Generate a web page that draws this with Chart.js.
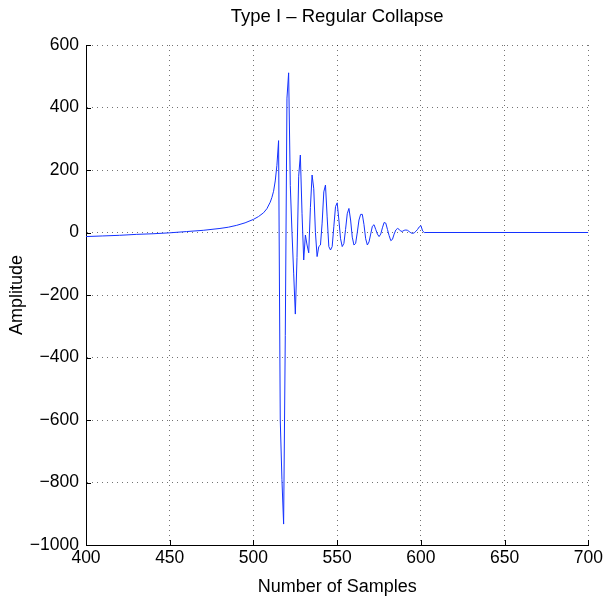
<!DOCTYPE html>
<html>
<head>
<meta charset="utf-8">
<title>Type I - Regular Collapse</title>
<script src="https://cdn.jsdelivr.net/npm/chart.js@4"></script>
<style>
    html, body { margin: 0; padding: 0; background: #ffffff; }
    canvas { display: block; }
</style>
</head>
<body>
<canvas id="collapseChart" width="606" height="599"></canvas>
<script>
// Signal (sample index -> amplitude)
const samples = [
    400, 410, 420, 430, 440, 450, 460, 470, 480, 485, 490, 495, 500, 503, 506, 508,
    510, 511, 512, 513, 514, 515, 516, 517, 518, 519, 520, 521, 522, 523, 524, 525,
    526, 527, 528, 529, 530, 531, 532, 533, 534, 535, 536, 537, 538, 539, 540, 541,
    542, 543, 544, 545, 546, 547, 548, 549, 550, 551, 552, 553, 554, 555, 556, 557,
    558, 559, 560, 561, 562, 563, 564, 565, 566, 567, 568, 569, 570, 571, 572, 573,
    574, 575, 576, 577, 578, 579, 580, 581, 582, 583, 584, 585, 586, 587, 588, 589,
    590, 591, 592, 593, 594, 595, 596, 597, 598, 599, 600, 601, 602, 700
];
const amplitude = [
    -13, -11, -9, -6, -4, -1, 3, 7, 13, 17, 23, 31, 42, 51, 63, 76,
    97, 112, 132, 165, 215, 294, -600, -790, -933, -330, 430, 511, 150, 0, -130, -261,
    -80, 180, 248, 60, -88, -8, -40, -65, 80, 184, 140, 0, -77, -45, -40, 30,
    130, 152, 50, -45, -56, -45, 20, 83, 95, 40, -20, -45, -35, 10, 60, 77,
    40, -15, -40, -35, 0, 40, 58, 58, 25, -20, -40, -30, -5, 20, 25, 10,
    -5, -13, -5, 15, 32, 30, 10, -10, -26, -22, -5, 8, 13, 10, 4, 4,
    7, 8, 7, 3, -1, -3, -1, 4, 10, 18, 22, 5, 0, 0
];

// Axis ranges and tick steps
const xMin = 400, xMax = 700, xStep = 50;
const yMin = -1000, yMax = 600, yStep = 200;

const fontFamily = "'Liberation Sans', Arial, sans-serif";

// MATLAB style ticks pointing into the plot
const inwardTicks = {
    id: 'inwardTicks',
    afterDraw(chart) {
        const { ctx, chartArea, scales } = chart;
        ctx.save();
        ctx.strokeStyle = '#000000';
        ctx.lineWidth = 1;
        ctx.beginPath();
        scales.x.ticks.forEach(t => {
            const px = Math.round(scales.x.getPixelForValue(t.value)) + 0.5;
            ctx.moveTo(px, chartArea.bottom);
            ctx.lineTo(px, chartArea.bottom - 5);
        });
        scales.y.ticks.forEach(t => {
            const py = Math.round(scales.y.getPixelForValue(t.value)) + 0.5;
            ctx.moveTo(chartArea.left, py);
            ctx.lineTo(chartArea.left + 5, py);
        });
        ctx.stroke();
        ctx.restore();
    }
};

function formatTick(value) {
    return value < 0 ? '\u2212' + Math.abs(value) : String(value);
}

const points = samples.map((s, i) => ({ x: s, y: amplitude[i] }));

new Chart(document.getElementById('collapseChart'), {
    type: 'line',
    data: {
        datasets: [{
            data: points,
            borderColor: 'rgb(20, 50, 255)',
            borderWidth: 1,
            pointRadius: 0,
            tension: 0,
            fill: false
        }]
    },
    options: {
        responsive: false,
        animation: false,
        devicePixelRatio: 1,
        layout: { padding: { left: 0, right: 15, top: 0, bottom: 0 } },
        plugins: {
            legend: { display: false },
            tooltip: { enabled: false },
            title: {
                display: true,
                fullSize: false,
                text: 'Type I \u2013 Regular Collapse',
                color: '#000000',
                font: { family: fontFamily, size: 18.5, weight: 'normal' },
                padding: { top: 6, bottom: 16.8 }
            }
        },
        scales: {
            x: {
                type: 'linear',
                min: xMin,
                max: xMax,
                afterFit(scale) { scale.height = 54; },
                ticks: {
                    stepSize: xStep,
                    color: '#000000',
                    padding: 3,
                    maxRotation: 0,
                    font: { family: fontFamily, size: 17.5 },
                    callback: formatTick
                },
                grid: {
                    color: 'rgba(0, 0, 0, 0.55)',
                    lineWidth: 1,
                    drawTicks: false
                },
                border: { display: true, color: '#000000', width: 1, dash: [1, 4] },
                title: {
                    display: true,
                    text: 'Number of Samples',
                    color: '#000000',
                    font: { family: fontFamily, size: 18 },
                    padding: { top: 0, bottom: 1 }
                }
            },
            y: {
                type: 'linear',
                min: yMin,
                max: yMax,
                afterFit(scale) { scale.width = 86; },
                ticks: {
                    stepSize: yStep,
                    color: '#000000',
                    padding: 7,
                    font: { family: fontFamily, size: 17.5 },
                    callback: formatTick
                },
                grid: {
                    color: 'rgba(0, 0, 0, 0.55)',
                    lineWidth: 1,
                    drawTicks: false
                },
                border: { display: true, color: '#000000', width: 1, dash: [1, 4] },
                title: {
                    display: true,
                    text: 'Amplitude',
                    color: '#000000',
                    font: { family: fontFamily, size: 18 },
                    padding: { top: 6, bottom: 0 }
                }
            }
        }
    },
    plugins: [inwardTicks]
});
</script>
</body>
</html>
